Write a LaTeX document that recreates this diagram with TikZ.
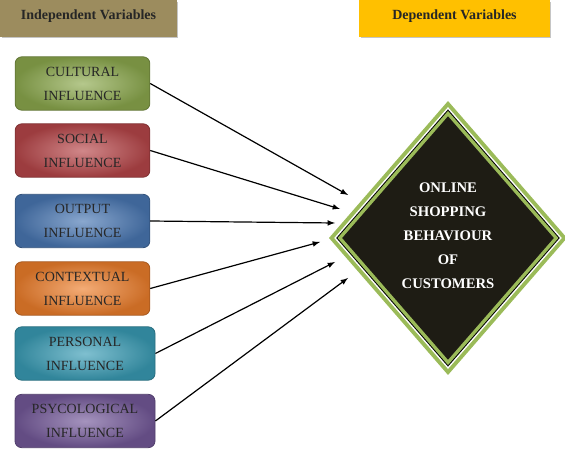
\documentclass[tikz,border=0pt]{standalone}
\usepackage{fontspec}
\setmainfont{Liberation Serif}
\usetikzlibrary{shapes.geometric,shadows}
\definecolor{hdrolive}{HTML}{9C8C5E}
\definecolor{hdrgold}{HTML}{FFC000}
\definecolor{culturalgreen}{HTML}{8DAA4E}
\definecolor{socialred}{HTML}{B8474A}
\definecolor{outputblue}{HTML}{4A78B4}
\definecolor{contextorange}{HTML}{EE7F2C}
\definecolor{personalteal}{HTML}{3A9DB6}
\definecolor{psychpurple}{HTML}{74599A}
\definecolor{ringgreen}{HTML}{9BBB59}
\definecolor{diamondblack}{HTML}{1E1C14}

\begin{document}
\begin{tikzpicture}[x=0.75pt, y=-0.75pt,
    hnode/.style={minimum height=27.5pt, fill=#1, font=\rmfamily\bfseries\fontsize{10.5}{12}\selectfont, text=black!85, drop shadow={shadow xshift=1.2pt, shadow yshift=-1.2pt, fill=black!45}},
    bnode/.style={rounded corners=5pt, minimum width=101pt, minimum height=40pt, align=center, inner sep=2pt, font=\rmfamily\fontsize{10.5}{18}\selectfont, text=black!85, draw=#1!70!black, line width=0.6pt, inner color=#1!65!white, outer color=#1!85!black},
    dnode/.style={align=center, font=\rmfamily\bfseries\fontsize{11}{18}\selectfont, text=white}]
    \useasboundingbox (0,0) rectangle (565,449);

    \node[hnode=hdrolive, minimum width=132.5pt, text depth=6pt] (indep) at (88.5,18.5) {Independent Variables};
    \node[hnode=hdrgold, minimum width=143pt, text depth=6pt] (dep) at (454.5,18.5) {Dependent Variables};

    \node[bnode=culturalgreen] (cultural) at (82.5,83.5) {CULTURAL\\INFLUENCE};
    \node[bnode=socialred] (social) at (82.5,150.5) {SOCIAL\\INFLUENCE};
    \node[bnode=outputblue] (output) at (82.5,221) {OUTPUT\\INFLUENCE};
    \node[bnode=contextorange] (contextual) at (82.5,288.5) {CONTEXTUAL\\INFLUENCE};
    \node[bnode=personalteal, minimum width=105pt] (personal) at (85,353.5) {PERSONAL\\INFLUENCE};
    \node[bnode=psychpurple, minimum width=105pt] (psych) at (85,421) {PSYCOLOGICAL\\INFLUENCE};

    \foreach \d/\c in {0/ringgreen, 4/white, 5.5/black, 6.5/ringgreen, 10/diamondblack}
        \fill[\c] (329+1.32*\d,238) -- (448,101+1.53*\d) -- (567-1.32*\d,238) -- (448,375-1.53*\d) -- cycle;
    \node[dnode] (behaviour) at (448,236) {ONLINE\\SHOPPING\\BEHAVIOUR\\OF\\CUSTOMERS};

    \coordinate (tipA) at (348,195);
    \coordinate (tipB) at (340,209);
    \coordinate (tipC) at (335,223);
    \coordinate (tipD) at (320,242);
    \coordinate (tipE) at (335,262);
    \coordinate (tipF) at (348,278);

    \begin{scope}[line width=0.9pt]
    \draw[-latex] (cultural.east) -- (tipA);
    \draw[-latex] (social.east) -- (tipB);
    \draw[-latex] (output.east) -- (tipC);
    \draw[-latex] (contextual.east) -- (tipD);
    \draw[-latex] (personal.east) -- (tipE);
    \draw[-latex] (psych.east) -- (tipF);
    \end{scope}
\end{tikzpicture}
\end{document}
